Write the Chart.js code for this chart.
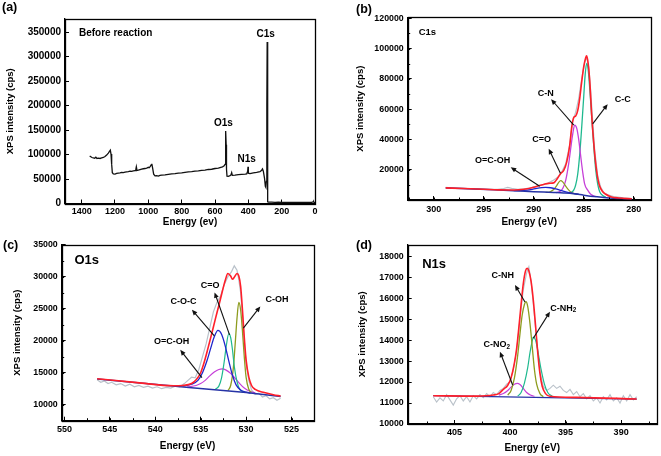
<!DOCTYPE html>
<html><head><meta charset="utf-8">
<script src="https://cdn.jsdelivr.net/npm/chart.js@4.4.1/dist/chart.umd.min.js"></script>
<style>
html,body{margin:0;padding:0;background:#fff;width:661px;height:456px;overflow:hidden;}
canvas{position:absolute;}
.lbl{position:absolute;font:bold 12.5px "Liberation Sans",Arial,sans-serif;color:#000;line-height:1;}
</style></head><body>
<canvas id="ca" width="330" height="228" style="left:0;top:0"></canvas>
<canvas id="cb" width="331" height="228" style="left:330px;top:0"></canvas>
<canvas id="cc" width="330" height="228" style="left:0;top:228px"></canvas>
<canvas id="cd" width="331" height="228" style="left:330px;top:228px"></canvas>
<div class="lbl" style="left:2px;top:1px">(a)</div>
<div class="lbl" style="left:356px;top:3px">(b)</div>
<div class="lbl" style="left:3px;top:239px">(c)</div>
<div class="lbl" style="left:356px;top:239px">(d)</div>
<script>
// ---------------- DATA ----------------
// (a) survey spectrum: [binding energy (eV), intensity (cps)]
const SURVEY = [[1352,97000],[1345,95500],[1338,94000],[1330,93000],[1322,92500],[1315,94500],[1308,92000],[1300,92500],[1290,92000],[1280,93000],[1270,94000],[1260,96000],[1250,99000],[1240,103000],[1232,107000],[1228,109000],[1224,101000],[1220,80000],[1216,63000],[1210,60500],[1200,60000],[1190,61500],[1180,62000],[1170,62500],[1160,63500],[1150,63000],[1140,64000],[1130,64500],[1120,65000],[1110,66000],[1100,65500],[1090,66500],[1080,67000],[1075,70000],[1072,75000],[1068,67500],[1060,68000],[1050,69000],[1040,70000],[1030,71000],[1020,71500],[1010,72500],[1000,74000],[995,73000],[988,76000],[983,79000],[979,81000],[975,74000],[968,60000],[960,56500],[950,57000],[940,56000],[930,57500],[920,58000],[900,58500],[880,59500],[860,60500],[840,61000],[820,62000],[800,62500],[780,63500],[760,64500],[740,65000],[720,66000],[700,66500],[680,67500],[660,68000],[640,69500],[620,70000],[600,71500],[580,72500],[565,74000],[555,75000],[545,77000],[540,80000],[537,110000],[535,148000],[533,120000],[531,70000],[528,56000],[520,55500],[510,57000],[505,58000],[500,63000],[496,57500],[480,58000],[460,59000],[440,59500],[420,60000],[410,60500],[404,66000],[402,75000],[400,62000],[390,61000],[370,62500],[350,63500],[330,65000],[320,68000],[315,70500],[310,66000],[303,52000],[298,35000],[295,33000],[292,45000],[289,200000],[287,330000],[285,150000],[283,3500],[280,3000],[260,2800],[240,2500],[220,2600],[200,2400],[180,2500],[150,2300],[120,2200],[100,2300],[80,2100],[60,2200],[40,2000],[20,2300],[12,3200],[8,3800],[5,2000],[0,1500]];
const SURVEY_LABELS = ['Before reaction','C1s','O1s','N1s'];

// (b) C1s
const C1S_RAW = [[298.8,8300],[298,7900],[297,7700],[296.2,7300],[295.5,7400],[294.5,7000],[293.6,7100],[293,7600],[292.6,8300],[292.2,7700],[291.6,7000],[291,7300],[290.4,7900],[289.8,9000],[289.2,10000],[288.6,11000],[288.1,12800],[287.6,15000],[287.2,18500],[286.8,24000],[286.4,36500],[286.1,52000],[285.8,58000],[285.5,67000],[285.2,80000],[284.9,91000],[284.7,94000],[284.5,88000],[284.3,72000],[284.1,52000],[283.9,33000],[283.6,16000],[283.3,8500],[283,5000],[282.5,3200],[282,2300],[281,1500],[280.2,1000]];
const C1S_FIT = [[298.8,8000],[297,7600],[295,7100],[293.5,6700],[292.5,6600],[291.5,6800],[290.5,7600],[290,8400],[289.5,9400],[289,10300],[288.5,11000],[288,11300],[287.6,14500],[287.3,17500],[287,19500],[286.7,25000],[286.4,36000],[286.2,48000],[286,54500],[285.8,55500],[285.6,59000],[285.4,67000],[285.2,78000],[285,88000],[284.8,94000],[284.7,95200],[284.55,90000],[284.4,79000],[284.2,56000],[284,38000],[283.8,24000],[283.6,14500],[283.4,9000],[283.1,5500],[282.8,3800],[282.3,2200],[281.5,1300],[280.2,800]];
const C1S_BG = [[298.8,7900],[296,7300],[294,6700],[292,6100],[290,5500],[288,5000],[287,4700],[286,4200],[285,3200],[284,2300],[283,1700],[282,1200],[281,900],[280.2,700]];
const C1S_COOH = [[292,6150],[291,6350],[290.3,6900],[289.7,7700],[289.2,8200],[288.8,8350],[288.3,8100],[287.8,7400],[287.3,6300],[286.8,5400],[286.3,4700],[285.8,4100],[285.5,3800]];
const C1S_CO = [[288.8,5000],[288.4,5300],[288,6900],[287.7,9500],[287.5,11700],[287.3,12800],[287.1,12000],[286.9,10200],[286.6,7300],[286.3,5300],[286,4400],[285.6,3900]];
const C1S_CN = [[287.8,4800],[287.4,5600],[287.1,7600],[286.8,13000],[286.5,24000],[286.3,34000],[286.1,43500],[285.9,49500],[285.7,47500],[285.5,40000],[285.3,29000],[285.1,18500],[284.9,10500],[284.6,6500],[284.3,3800],[283.8,2200]];
const C1S_CC = [[286.3,4800],[286,6500],[285.8,10000],[285.6,17000],[285.4,30000],[285.2,48000],[285,68000],[284.85,83000],[284.7,90300],[284.55,86000],[284.4,74000],[284.2,55000],[284,36000],[283.8,20000],[283.6,10500],[283.4,5500],[283.1,3000],[282.8,2000]];
const C1S_LABELS = ['C1s','C-N','C-C','C=O','O=C-OH'];

// (c) O1s
const O1S_RAW = [[546.4,13900],[546,13500],[545.6,13700],[545.2,13300],[544.8,13500],[544.3,13100],[543.8,13300],[543.3,12900],[542.8,13200],[542.3,12800],[541.8,13000],[541.3,12700],[540.8,12900],[540.3,12600],[539.8,12800],[539.3,12500],[538.8,12700],[538.3,12600],[537.8,12900],[537.3,12800],[536.8,13300],[536.4,13800],[536,14300],[535.6,14200],[535.2,15500],[534.8,17500],[534.4,19500],[534,22000],[533.6,24500],[533.2,26000],[532.8,27000],[532.4,28800],[532,30000],[531.6,30800],[531.3,31700],[531,31000],[530.8,29500],[530.6,27500],[530.4,24000],[530.2,20000],[530,16500],[529.7,13800],[529.4,12300],[529,11600],[528.6,11800],[528.2,11200],[527.8,11400],[527.4,10900],[527,11100],[526.6,10700],[526.2,11000]];
const O1S_FIT = [[546.4,14050],[542,13450],[538,12950],[537,13000],[536,13300],[535.5,13900],[535,15000],[534.6,16700],[534.2,18800],[533.8,21000],[533.4,23300],[533,25500],[532.6,27800],[532.3,29400],[532,30500],[531.7,30100],[531.5,29600],[531.3,29900],[531,30500],[530.8,30100],[530.6,28500],[530.4,24800],[530.2,20500],[530,17000],[529.7,14300],[529.4,13000],[529,12400],[528,11900],[527,11550],[526.2,11350]];
const O1S_BG = [[546.4,14030],[536,12650],[530,11900],[526.2,11300]];
const O1S_COC = [[537,12900],[536,13200],[535.3,13800],[534.8,15000],[534.3,16900],[533.9,18800],[533.5,20600],[533.1,21600],[532.7,21000],[532.3,19200],[531.9,16800],[531.5,14600],[531.1,13100],[530.6,12300],[530,11950],[529.5,11800]];
const O1S_CO = [[533.4,12400],[533,12900],[532.7,14200],[532.4,16800],[532.2,19000],[531.9,21100],[531.7,20500],[531.5,18600],[531.3,16000],[531,13600],[530.7,12400],[530.3,12000]];
const O1S_COH = [[532,12200],[531.7,13000],[531.4,15800],[531.2,19500],[531,23500],[530.8,26000],[530.6,24800],[530.4,21500],[530.2,17500],[530,14300],[529.7,12400],[529.4,11900]];
const O1S_COOH = [[536.5,12750],[535.5,13000],[535,13300],[534.5,13800],[534,14500],[533.5,15100],[533,15500],[532.6,15600],[532.2,15400],[531.7,14900],[531.2,14100],[530.7,13300],[530.2,12600],[529.6,12100],[529,11850]];
const O1S_LABELS = ['O1s','C-O-C','C=O','C-OH','O=C-OH'];

// (d) N1s
const N1S_RAW = [[406.9,11300],[406.6,11050],[406.3,11250],[406,11100],[405.7,11400],[405.4,11150],[405.1,10900],[404.8,11200],[404.5,11350],[404.2,11100],[403.9,11300],[403.6,11050],[403.3,11350],[403,11200],[402.7,11400],[402.4,11250],[402.1,11450],[401.8,11300],[401.5,11500],[401.2,11400],[400.9,11600],[400.6,11700],[400.3,11900],[400,12000],[399.7,12600],[399.4,13500],[399.1,15000],[398.8,16400],[398.5,17200],[398.3,17500],[398.1,16800],[397.9,15700],[397.6,14000],[397.3,12500],[397,11800],[396.7,11600],[396.4,11700],[396.1,11850],[395.8,11700],[395.5,11800],[395.2,11600],[394.9,11500],[394.6,11650],[394.3,11400],[394,11550],[393.7,11300],[393.4,11450],[393.1,11200],[392.8,11350],[392.5,11100],[392.2,11250],[391.9,11000],[391.6,11300],[391.3,11150],[391,11400],[390.7,11100],[390.4,11250],[390.1,11000],[389.8,11350],[389.5,11100],[389.2,11400],[388.9,11150],[388.6,11300]];
const N1S_FIT = [[406.9,11350],[403,11330],[401.5,11380],[401,11450],[400.6,11650],[400.2,11850],[399.9,12200],[399.6,12900],[399.4,13600],[399.2,14600],[399,15700],[398.8,16700],[398.6,17300],[398.45,17430],[398.3,17300],[398.1,16800],[397.9,15900],[397.7,14700],[397.5,13400],[397.3,12400],[397.1,11800],[396.8,11450],[396.4,11320],[394,11270],[388.6,11190]];
const N1S_BG = [[406.9,11350],[388.6,11190]];
const N1S_CNH = [[400.2,11380],[399.9,11600],[399.6,12200],[399.3,13300],[399.1,14300],[398.9,15200],[398.7,15700],[398.56,15830],[398.4,15600],[398.2,14800],[398,13700],[397.8,12600],[397.6,11900],[397.3,11450],[397,11300]];
const N1S_CNH2 = [[399.3,11330],[399,11500],[398.7,11950],[398.4,12700],[398.2,13400],[398,13950],[397.9,14140],[397.7,14000],[397.5,13500],[397.2,12600],[396.9,11900],[396.6,11500],[396.2,11320]];
const N1S_CNO2 = [[401,11380],[400.6,11450],[400.2,11600],[399.9,11760],[399.6,11900],[399.34,11940],[399.1,11880],[398.8,11700],[398.5,11500],[398.1,11370],[397.8,11320]];
const N1S_LABELS = ['N1s','C-NH','C-NH','C-NO'];

// ---------------- RENDERING ----------------
const FONT = '"Liberation Sans", Arial, Helvetica, sans-serif';
Chart.defaults.font.family = FONT;
Chart.defaults.font.weight = 'bold';
Chart.defaults.color = '#000';

const RED = '#ff1f2a', GRAY = '#b9c1c9', BG = '#2633a6', MAG = '#c640d8', OLIVE = '#8d9c1f', TEAL = '#1fb98f', BLUE = '#2026cc';

const pts = arr => arr.map(p => ({x: p[0], y: p[1]}));
function line(data, color, width, smooth) {
  return {data: pts(data), borderColor: color, borderWidth: width, pointRadius: 0, fill: false,
    tension: smooth ? 0.4 : 0, cubicInterpolationMode: smooth ? 'monotone' : 'default'};
}

const annot = {
  id: 'annot',
  afterDatasetsDraw(chart, args, o) {
    const {ctx, chartArea: ca, scales: {x, y}} = chart;
    ctx.save();
    ctx.strokeStyle = '#000'; ctx.lineWidth = 1;
    if (o.minorX) {
      for (let v = Math.ceil(x.min / o.minorX) * o.minorX; v <= x.max; v += o.minorX) {
        const px = Math.round(x.getPixelForValue(v)) + 0.5;
        ctx.beginPath(); ctx.moveTo(px, ca.bottom); ctx.lineTo(px, ca.bottom - 2.5); ctx.stroke();
      }
    }
    if (o.minorY) {
      for (let v = Math.ceil(y.min / o.minorY) * o.minorY; v <= y.max; v += o.minorY) {
        const py = Math.round(y.getPixelForValue(v)) + 0.5;
        ctx.beginPath(); ctx.moveTo(ca.left, py); ctx.lineTo(ca.left + 2.5, py); ctx.stroke();
      }
    }
    ctx.lineWidth = 1.3;
    ctx.strokeRect(Math.round(ca.left) + 0.5, Math.round(ca.top) + 0.5, Math.round(ca.right - ca.left), Math.round(ca.bottom - ca.top));
    (o.arrows || []).forEach(a => {
      const x1 = x.getPixelForValue(a[0]), y1 = y.getPixelForValue(a[1]);
      const x2 = x.getPixelForValue(a[2]), y2 = y.getPixelForValue(a[3]);
      const ang = Math.atan2(y2 - y1, x2 - x1), L = 5.5, W = 2.4;
      ctx.strokeStyle = '#111'; ctx.fillStyle = '#111'; ctx.lineWidth = 1.1;
      ctx.beginPath(); ctx.moveTo(x1, y1); ctx.lineTo(x2 - Math.cos(ang) * L * 0.8, y2 - Math.sin(ang) * L * 0.8); ctx.stroke();
      ctx.beginPath(); ctx.moveTo(x2, y2);
      ctx.lineTo(x2 - Math.cos(ang) * L - Math.sin(ang) * W, y2 - Math.sin(ang) * L + Math.cos(ang) * W);
      ctx.lineTo(x2 - Math.cos(ang) * L + Math.sin(ang) * W, y2 - Math.sin(ang) * L - Math.cos(ang) * W);
      ctx.closePath(); ctx.fill();
    });
    ctx.fillStyle = '#000'; ctx.textBaseline = 'middle';
    (o.labels || []).forEach(l => {
      const px = x.getPixelForValue(l.x), py = y.getPixelForValue(l.y);
      ctx.font = 'bold ' + l.size + 'px ' + FONT;
      const w1 = ctx.measureText(l.text).width;
      let w2 = 0;
      const subFont = 'bold ' + (l.size * 0.7).toFixed(1) + 'px ' + FONT;
      if (l.sub) { ctx.font = subFont; w2 = ctx.measureText(l.sub).width; ctx.font = 'bold ' + l.size + 'px ' + FONT; }
      const left = l.align === 'left' ? px : px - (w1 + w2) / 2;
      ctx.textAlign = 'left';
      ctx.fillText(l.text, left, py);
      if (l.sub) { ctx.font = subFont; ctx.fillText(l.sub, left + w1, py + l.size * 0.3); }
    });
    ctx.restore();
  }
};

// tick values at multiples of the step inside [min, max]
function stepTicks(step, hideZero) {
  return scale => {
    const out = [];
    const n0 = Math.ceil(scale.min / step - 1e-9), n1 = Math.floor(scale.max / step + 1e-9);
    for (let n = n0; n <= n1; n++) {
      const v = Math.round(n * step * 1000) / 1000;
      if (hideZero && v === 0) continue;
      out.push({value: v});
    }
    scale.ticks = out;
  };
}

function axes(o) {
  return {
    x: {type: 'linear', reverse: true, min: o.xmin, max: o.xmax,
      afterBuildTicks: stepTicks(o.xstep, false),
      afterFit: s => { s.height = o.xh; },
      border: {display: true, color: '#000', width: 1.3},
      grid: {display: true, drawOnChartArea: false, drawTicks: true, tickLength: -4, color: '#000', lineWidth: 1},
      ticks: {padding: o.xpad, font: {size: o.xfs, weight: 'bold'}, color: '#000', maxRotation: 0, autoSkip: false, callback: v => String(v)},
      title: {display: true, text: o.xtitle, font: {size: 10, weight: 'bold'}, color: '#000', padding: {top: 0, bottom: o.xtpad}}},
    y: {type: 'linear', min: o.ymin, max: o.ymax,
      afterBuildTicks: stepTicks(o.ystep, o.hideZeroY),
      afterFit: s => { s.width = o.yw; },
      border: {display: true, color: '#000', width: 1.3},
      grid: {display: true, drawOnChartArea: false, drawTicks: true, tickLength: -4, color: '#000', lineWidth: 1},
      ticks: {padding: 8, font: {size: o.yfs, weight: 'bold'}, color: '#000', autoSkip: false, callback: v => String(v)},
      title: {display: true, text: 'XPS intensity (cps)', font: {size: 9.5, weight: 'bold'}, color: '#000', padding: {top: o.ytpad, bottom: 0}}}
  };
}

function make(id, datasets, ax, pad, plug) {
  return new Chart(document.getElementById(id), {
    type: 'line',
    data: {datasets},
    options: {
      responsive: false, animation: false, devicePixelRatio: 1,
      layout: {padding: pad},
      plugins: {legend: {display: false}, tooltip: {enabled: false}, annot: plug},
      scales: axes(ax)
    },
    plugins: [annot]
  });
}

// (a)
make('ca', [line(SURVEY, '#111', 1.3, false)],
  {xmin: 0, xmax: 1500, xstep: 200, xh: 24.5, xpad: 7, xfs: 9, xtitle: 'Energy (ev)', xtpad: 0,
   ymin: 0, ymax: 377000, ystep: 50000, yw: 65, yfs: 10, ytpad: 5},
  {left: 0, right: 15, top: 19, bottom: 0},
  {labels: [
    {text: SURVEY_LABELS[0], x: 1416, y: 347900, size: 10, align: 'left'},
    {text: SURVEY_LABELS[1], x: 296, y: 346500, size: 10},
    {text: SURVEY_LABELS[2], x: 550, y: 164000, size: 10},
    {text: SURVEY_LABELS[3], x: 410, y: 90300, size: 10}]});

// (b)
make('cb', [
    line(C1S_FIT, RED, 1.6, true),
    line(C1S_BG, BG, 1.5, true),
    line(C1S_COOH, BLUE, 1.3, true),
    line(C1S_CO, OLIVE, 1.2, true),
    line(C1S_CN, MAG, 1.3, true),
    line(C1S_CC, TEAL, 1.3, true),
    line(C1S_RAW, GRAY, 1.2, false)],
  {xmin: 278.3, xmax: 302.6, xstep: 5, xh: 28, xpad: 8.5, xfs: 9, xtitle: 'Energy (eV)', xtpad: 0,
   ymin: 0, ymax: 120700, ystep: 20000, yw: 77.7, yfs: 8.8, ytpad: 25, hideZeroY: true},
  {left: 0, right: 10.3, top: 17.3, bottom: 0},
  {minorX: 2.5, minorY: 10000,
   labels: [
    {text: C1S_LABELS[0], x: 301.5, y: 110800, size: 9.5, align: 'left'},
    {text: C1S_LABELS[1], x: 288.8, y: 70600, size: 9},
    {text: C1S_LABELS[2], x: 281.1, y: 66600, size: 9},
    {text: C1S_LABELS[3], x: 289.2, y: 39800, size: 9},
    {text: C1S_LABELS[4], x: 294.1, y: 26000, size: 9}],
   arrows: [[285.99, 49400, 288.26, 66600], [284.1, 50300, 282.6, 63300], [287.33, 17700, 288.5, 33900], [289.4, 9100, 292.3, 21600]]});

// (c)
make('cc', [
    line(O1S_FIT, RED, 1.6, true),
    line(O1S_BG, BG, 1.5, false),
    line(O1S_COC, BLUE, 1.3, true),
    line(O1S_CO, TEAL, 1.2, true),
    line(O1S_COH, OLIVE, 1.3, true),
    line(O1S_COOH, MAG, 1.2, true),
    line(O1S_RAW, GRAY, 1.2, false)],
  {xmin: 522.6, xmax: 550.3, xstep: 5, xh: 35.3, xpad: 7.5, xfs: 9, xtitle: 'Energy (eV)', xtpad: 3.5,
   ymin: 7500, ymax: 35000, ystep: 5000, yw: 61.7, yfs: 8.8, ytpad: 12},
  {left: 0, right: 16.7, top: 16.7, bottom: 0},
  {minorX: 2.5, minorY: 2500,
   labels: [
    {text: O1S_LABELS[0], x: 548.9, y: 32470, size: 13, align: 'left'},
    {text: O1S_LABELS[1], x: 536.9, y: 26140, size: 9},
    {text: O1S_LABELS[2], x: 533.95, y: 28600, size: 9},
    {text: O1S_LABELS[3], x: 526.6, y: 26500, size: 9},
    {text: O1S_LABELS[4], x: 538.2, y: 19870, size: 9}],
   arrows: [[533.5, 20760, 535.96, 24840], [531.82, 20920, 533.47, 27550], [530.3, 21970, 528.43, 25360], [534.86, 14230, 537.25, 18570]]});

// (d)
make('cd', [
    line(N1S_FIT, RED, 1.6, true),
    line(N1S_CNH, OLIVE, 1.3, true),
    line(N1S_CNH2, TEAL, 1.2, true),
    line(N1S_CNO2, MAG, 1.2, true),
    line(N1S_BG, BG, 1.3, false),
    line(N1S_RAW, GRAY, 1.1, false)],
  {xmin: 386.8, xmax: 409.2, xstep: 5, xh: 32, xpad: 7.5, xfs: 9, xtitle: 'Energy (eV)', xtpad: 2,
   ymin: 10000, ymax: 18550, ystep: 1000, yw: 77.7, yfs: 8.8, ytpad: 27},
  {left: 0, right: 4.3, top: 16.7, bottom: 0},
  {minorX: 2.5,
   labels: [
    {text: N1S_LABELS[0], x: 407.9, y: 17630, size: 13, align: 'left'},
    {text: N1S_LABELS[1], x: 400.66, y: 17093, size: 9},
    {text: N1S_LABELS[2], sub: '2', x: 395.2, y: 15530, size: 9},
    {text: N1S_LABELS[3], sub: '2', x: 401.2, y: 13780, size: 9}],
   arrows: [[398.65, 15820, 399.55, 16630], [397.9, 14090, 396.4, 15357], [399.76, 11860, 400.9, 13450]]});
</script>
</body></html>
